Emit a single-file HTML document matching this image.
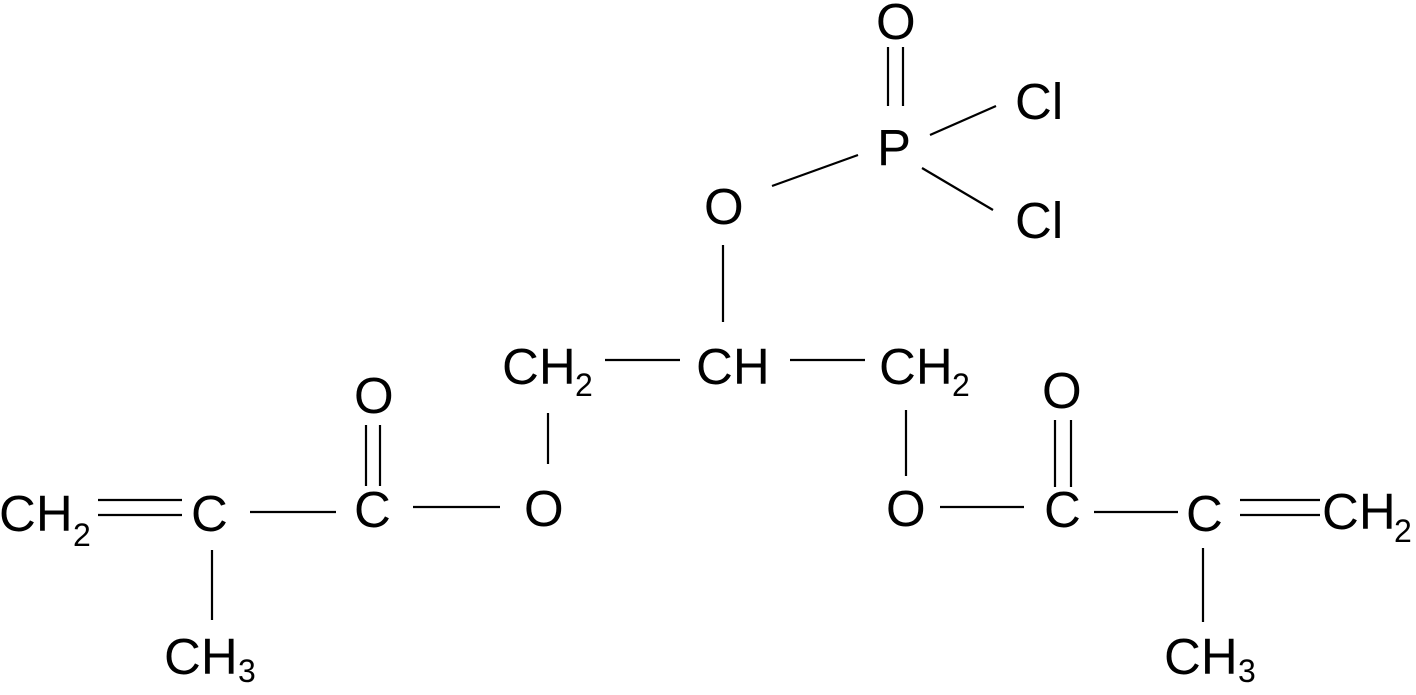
<!DOCTYPE html>
<html><head><meta charset="utf-8"><style>
html,body{margin:0;padding:0;background:#fff;}
svg{display:block}
text{font-family:"Liberation Sans",sans-serif;fill:#000}
</style></head><body>
<svg width="1416" height="695" viewBox="0 0 1416 695" xmlns="http://www.w3.org/2000/svg">
<g stroke="#000" stroke-width="2.2" fill="none">
<line x1="98" y1="500" x2="182" y2="500"/>
<line x1="98" y1="515" x2="182" y2="515"/>
<line x1="212" y1="550" x2="212" y2="620"/>
<line x1="250" y1="512" x2="336" y2="512"/>
<line x1="366" y1="425" x2="366" y2="486"/>
<line x1="380" y1="425" x2="380" y2="486"/>
<line x1="413" y1="507" x2="500" y2="507"/>
<line x1="548" y1="413" x2="548" y2="464"/>
<line x1="605" y1="360" x2="680" y2="360"/>
<line x1="790" y1="360" x2="865" y2="360"/>
<line x1="723" y1="245" x2="723" y2="322"/>
<line x1="906" y1="410" x2="906" y2="476"/>
<line x1="940" y1="507" x2="1024" y2="507"/>
<line x1="1055" y1="420" x2="1055" y2="487"/>
<line x1="1071" y1="420" x2="1071" y2="487"/>
<line x1="1094" y1="512" x2="1178" y2="512"/>
<line x1="1240" y1="500" x2="1320" y2="500"/>
<line x1="1240" y1="515" x2="1320" y2="515"/>
<line x1="1203" y1="548" x2="1203" y2="622"/>
<line x1="772" y1="186" x2="858" y2="155"/>
<line x1="888" y1="47" x2="888" y2="106"/>
<line x1="903" y1="47" x2="903" y2="106"/>
<line x1="930" y1="135" x2="996" y2="106"/>
<line x1="922" y1="168" x2="993" y2="210"/>
</g>
<g font-size="51">
<text x="-1" y="531">CH</text><text x="73" y="546" font-size="32">2</text>
<text x="191" y="531">C</text>
<text x="164" y="674">CH</text><text x="238" y="682" font-size="32">3</text>
<text x="354" y="527">C</text>
<text x="354" y="413">O</text>
<text x="524" y="526">O</text>
<text x="502" y="384">CH</text><text x="575" y="396" font-size="32">2</text>
<text x="696" y="384">CH</text>
<text x="879" y="384">CH</text><text x="952" y="396" font-size="32">2</text>
<text x="886" y="526">O</text>
<text x="1044" y="527">C</text>
<text x="1042" y="408">O</text>
<text x="1186" y="531">C</text>
<text x="1322" y="529">CH</text><text x="1394" y="542" font-size="32">2</text>
<text x="1164" y="674">CH</text><text x="1238" y="682" font-size="32">3</text>
<text x="704" y="224">O</text>
<text x="877" y="165">P</text>
<text x="876" y="39">O</text>
<text x="1015" y="119">Cl</text>
<text x="1015" y="238">Cl</text>
</g>
</svg>
</body></html>
